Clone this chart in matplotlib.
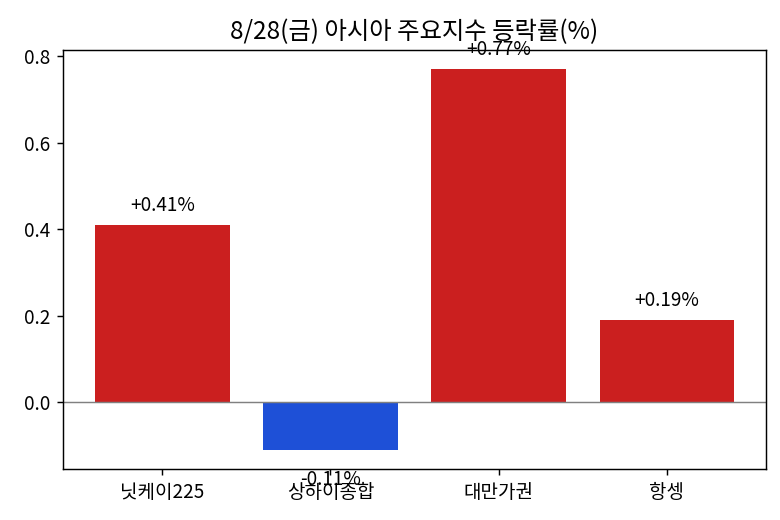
import matplotlib
matplotlib.use("Agg")
import matplotlib.pyplot as plt

plt.rcParams['font.family'] = ['Noto Sans CJK KR', 'DejaVu Sans']
plt.rcParams['axes.unicode_minus'] = False

TITLE = "8/28(금) 아시아 주요지수 등락률(%)"
indices = ["닛케이225", "상하이종합", "대만가권", "항셍"]
changes = [0.41, -0.11, 0.77, 0.19]

RED = "#cb1f1f"
BLUE = "#1e50d7"


def main():
    fig, ax = plt.subplots(figsize=(6, 4), dpi=130)
    colors = [RED if v >= 0 else BLUE for v in changes]
    bars = ax.bar(indices, changes, color=colors, width=0.8)
    ax.axhline(0, color="gray", linewidth=0.8)

    for bar, v in zip(bars, changes):
        x = bar.get_x() + bar.get_width() / 2
        y = v + 0.045 if v >= 0 else v - 0.068
        ax.text(x, y, "%+.2f%%" % v, ha="center", va="center", fontsize=10.5)

    ax.tick_params(labelsize=10.5)
    ax.set_title(TITLE, fontsize=13.5)
    fig.subplots_adjust(left=63 / 780, right=766 / 780, top=1 - 50 / 520, bottom=1 - 469 / 520)
    fig.savefig("out.png", dpi=130)


if __name__ == '__main__':
    main()
